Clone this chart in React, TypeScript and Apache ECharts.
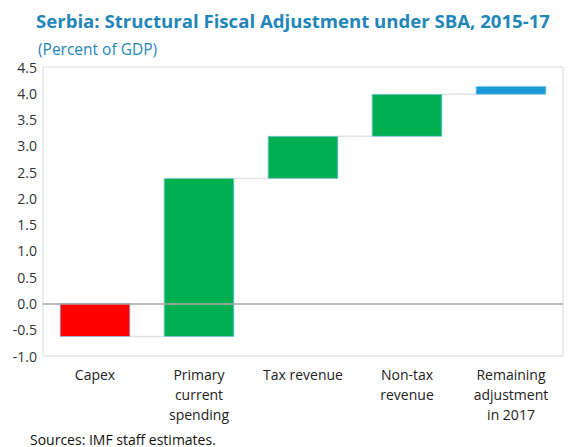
import React, { useEffect, useRef } from "react";
import * as echarts from "echarts";

const categories = ["Capex", "Primary\ncurrent\nspending", "Tax revenue", "Non-tax\nrevenue", "Remaining\nadjustment\nin 2017"];
const changes = [-0.63, 3.01, 0.8, 0.8, 0.15];
const barColors = ["#FF0000", "#00B050", "#00B050", "#00B050", "#1A9BD7"];
const yTicks = [-1.0, -0.5, 0.0, 0.5, 1.0, 1.5, 2.0, 2.5, 3.0, 3.5, 4.0, 4.5];

const FONT = "'Open Sans', 'Noto Sans', sans-serif";

export default function App() {
  const ref = useRef<HTMLDivElement>(null);
  useEffect(() => {
    document.body.style.margin = "0";
    if (!ref.current) return;
    const chart = echarts.init(ref.current, null, { renderer: "svg" });

    const bars: number[][] = [];
    const links: number[][] = [];
    let cum = 0;
    changes.forEach((c, i) => {
      const start = cum;
      const end = cum + c;
      bars.push([i, Math.min(start, end), Math.max(start, end)]);
      if (i > 0) links.push([i - 1, i, start]);
      cum = end;
    });

    chart.setOption({
      animation: false,
      title: [
        {
          text: "Serbia: Structural Fiscal Adjustment under SBA, 2015-17",
          left: 31,
          top: 6,
          textStyle: { fontFamily: FONT, fontSize: 18.6, fontWeight: "bold", color: "#1F86BA" },
        },
        {
          text: "(Percent of GDP)",
          left: 33,
          top: 36,
          textStyle: { fontFamily: FONT, fontSize: 15.5, fontWeight: "normal", color: "#1F86BA" },
        },
        {
          text: "Sources: IMF staff estimates.",
          left: 25,
          top: 427,
          textStyle: { fontFamily: FONT, fontSize: 14, fontWeight: "normal", color: "#111" },
        },
      ],
      grid: {
        left: 43,
        right: 5,
        top: 67,
        bottom: 91,
        show: true,
        borderColor: "#D9D9D9",
        borderWidth: 1,
      },
      xAxis: {
        type: "category",
        data: categories,
        axisLine: { show: false },
        axisTick: { show: false },
        axisLabel: {
          fontFamily: FONT,
          fontSize: 14,
          color: "#222",
          lineHeight: 20,
          margin: 8,
          verticalAlign: "top",
          interval: 0,
        },
      },
      yAxis: {
        type: "value",
        min: -1,
        max: 4.5,
        interval: 0.5,
        splitLine: { show: false },
        axisLine: { show: false },
        axisTick: { show: false },
        axisLabel: {
          fontFamily: FONT,
          fontSize: 14,
          color: "#333",
          margin: 6,
          formatter: (v: number) => {
            const t = yTicks.find((x) => Math.abs(x - v) < 1e-9);
            return t === undefined ? "" : t.toFixed(1);
          },
        },
      },
      series: [
        {
          type: "custom",
          data: links,
          z: 1,
          renderItem: (params: any, api: any) => {
            const a = api.coord([api.value(0), api.value(2)]);
            const b = api.coord([api.value(1), api.value(2)]);
            const w = api.size([1, 0])[0] * 0.67;
            return {
              type: "line",
              shape: { x1: a[0] + w / 2, y1: a[1], x2: b[0] - w / 2, y2: b[1] },
              style: { stroke: "#E3E3E3", lineWidth: 1.5 },
            };
          },
        },
        {
          type: "custom",
          data: bars,
          z: 2,
          renderItem: (params: any, api: any) => {
            const i = api.value(0);
            const lo = api.coord([i, api.value(1)]);
            const hi = api.coord([i, api.value(2)]);
            const w = api.size([1, 0])[0] * 0.67;
            return {
              type: "rect",
              shape: { x: lo[0] - w / 2, y: hi[1], width: w, height: lo[1] - hi[1] },
              style: { fill: barColors[i], stroke: "#7FC3E8", lineWidth: 0.8 },
            };
          },
          markLine: {
            silent: true,
            symbol: "none",
            label: { show: false },
            lineStyle: { color: "#A6A6A6", width: 1.5, type: "solid" },
            data: [{ yAxis: 0 }],
            z: 5,
          },
        },
      ],
    });
    return () => chart.dispose();
  }, []);
  return <div ref={ref} style={{ width: 568, height: 447 }} />;
}
